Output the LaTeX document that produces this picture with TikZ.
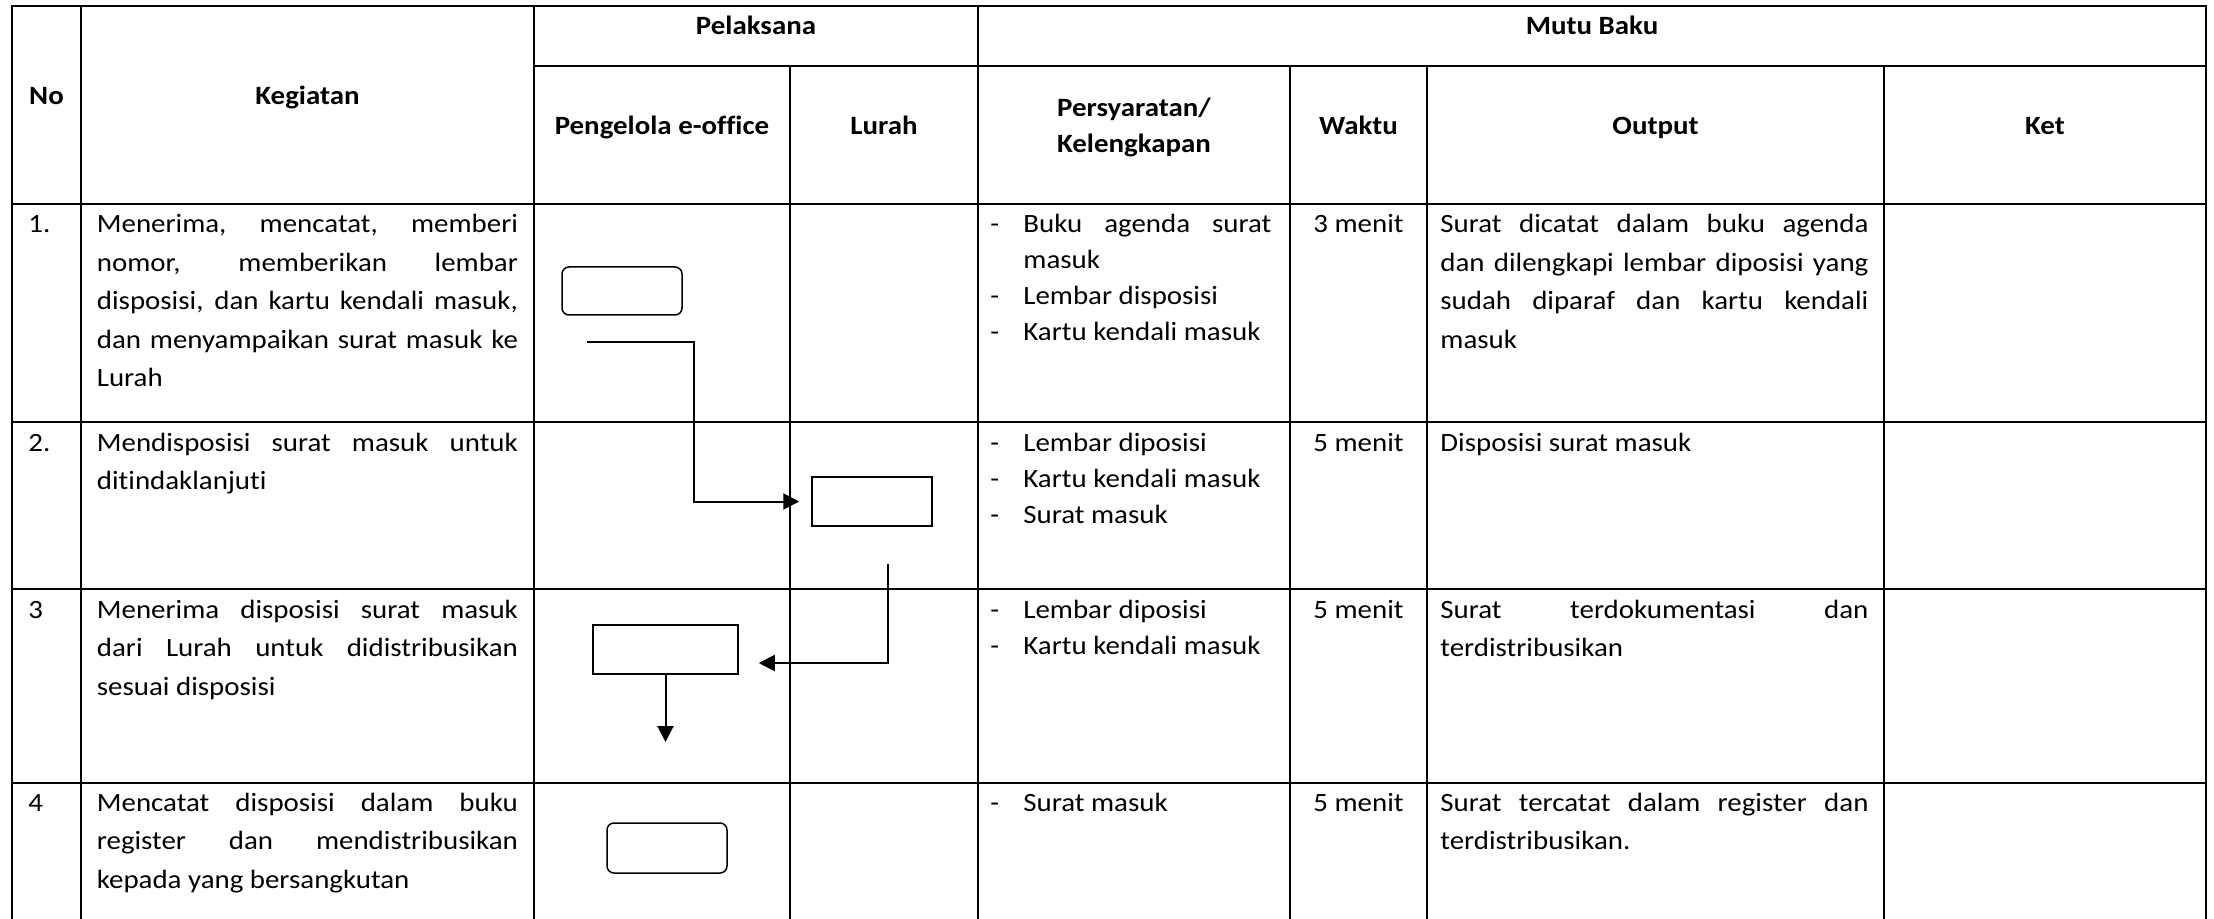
\documentclass[tikz,border=0pt]{standalone}
\usepackage{fontspec}
\setmainfont{Carlito}[FakeStretch=1.095, Ligatures=NoCommon]
\usetikzlibrary{arrows.meta}
\tolerance=10000 \hbadness=10000 \hyphenpenalty=10000
\newcommand\tabfont{\fontsize{13.2pt}{19.25pt}\selectfont}
\newcommand\listfont{\fontsize{13.2pt}{18pt}\selectfont}
\newcommand\butir{\hangindent=16.5pt\hangafter=1\noindent\makebox[16.5pt][l]{-}}
\tikzset{
    tabline/.style={line width=0.9pt},
    head/.style={font=\tabfont\bfseries, anchor=base, inner sep=0pt},
    txt/.style={font=\tabfont, anchor=base west, inner sep=0pt},
    para/.style={txt, align=justify, text width=#1},
    proc/.style={draw, line width=0.75pt, inner sep=0pt, minimum width=60pt, minimum height=24.5pt},
    flow/.style={line width=1pt, -{Triangle[length=8pt,width=8pt]}}
}
\begin{document}
\begin{tikzpicture}[x=0.5pt, y=-0.5pt]
    \useasboundingbox (0,0) rectangle (2214,919);
    % table lines
    \draw[tabline] (12,919) -- (12,6) -- (2206,6) -- (2206,919);
    \draw[tabline] (534,66) -- (2206,66);
    \foreach \y in {204,422,589,783}
        \draw[tabline] (12,\y) -- (2206,\y);
    \foreach \x in {81,534,978}
        \draw[tabline] (\x,6) -- (\x,919);
    \foreach \x in {790,1290,1427,1884}
        \draw[tabline] (\x,66) -- (\x,919);

    % header
    \node[head] (hno) at (46.5,105) {No};
    \node[head] (hkeg) at (307.5,105) {Kegiatan};
    \node[head] (hpel) at (756,35) {Pelaksana};
    \node[head] (hmutu) at (1592,35) {Mutu Baku};
    \node[head] (hpeng) at (662,135) {Pengelola e-office};
    \node[head] (hlurah) at (884,135) {Lurah};
    \node[head, font=\listfont\bfseries, text width=150pt, align=center] (hsyarat) at (1134,117) {Persyaratan/\\Kelengkapan};
    \node[head] (hwaktu) at (1358.5,135) {Waktu};
    \node[head] (hout) at (1655.5,135) {Output};
    \node[head] (hket) at (2045,135) {Ket};

    % row 1
    \node[txt] (no1) at (28,233) {1.};
    \node[para=210.5pt] (keg1) at (96.5,233) {Menerima, mencatat, memberi\linebreak nomor, memberikan lembar\linebreak disposisi, dan kartu kendali masuk,\linebreak dan menyampaikan surat masuk ke\linebreak Lurah};
    \node[para=140.5pt, font=\listfont] (syarat1) at (990,233) {\butir Buku agenda surat masuk\par\butir Lembar disposisi\par\butir Kartu kendali masuk};
    \node[txt, anchor=base] (waktu1) at (1358.5,233) {3 menit};
    \node[para=214pt] (out1) at (1440,233) {Surat dicatat dalam buku agenda\linebreak dan dilengkapi lembar diposisi yang\linebreak sudah diparaf dan kartu kendali\linebreak masuk};

    % row 2
    \node[txt] (no2) at (28,451) {2.};
    \node[para=210.5pt] (keg2) at (96.5,451) {Mendisposisi surat masuk untuk\linebreak ditindaklanjuti};
    \node[para=140.5pt, font=\listfont] (syarat2) at (990,451) {\butir Lembar diposisi\par\butir Kartu kendali masuk\par\butir Surat masuk};
    \node[txt, anchor=base] (waktu2) at (1358.5,451) {5 menit};
    \node[para=214pt] (out2) at (1440,451) {Disposisi surat masuk};

    % row 3
    \node[txt] (no3) at (28,618) {3};
    \node[para=210.5pt] (keg3) at (96.5,618) {Menerima disposisi surat masuk\linebreak dari Lurah untuk didistribusikan\linebreak sesuai disposisi};
    \node[para=140.5pt, font=\listfont] (syarat3) at (990,618) {\butir Lembar diposisi\par\butir Kartu kendali masuk};
    \node[txt, anchor=base] (waktu3) at (1358.5,618) {5 menit};
    \node[para=214pt] (out3) at (1440,618) {Surat terdokumentasi dan\linebreak terdistribusikan};

    % row 4
    \node[txt] (no4) at (28,811) {4};
    \node[para=210.5pt] (keg4) at (96.5,811) {Mencatat disposisi dalam buku\linebreak register dan mendistribusikan\linebreak kepada yang bersangkutan};
    \node[para=140.5pt, font=\listfont] (syarat4) at (990,811) {\butir Surat masuk};
    \node[txt, anchor=base] (waktu4) at (1358.5,811) {5 menit};
    \node[para=214pt] (out4) at (1440,811) {Surat tercatat dalam register dan\linebreak terdistribusikan.};

    % flow boxes
    \node[proc, rounded corners=3.5pt, minimum height=24pt] (box1) at (622,291) {};
    \node[proc] (box2) at (872,501.5) {};
    \node[proc, minimum width=72.5pt] (box3) at (665.5,649.5) {};
    \node[proc, rounded corners=3.5pt, minimum height=25pt] (box4) at (667,848) {};

    \coordinate (kirim) at (587,342);
    \coordinate (balik) at (888,564);
    \coordinate (turun) at (665.5,742);
    \draw[flow, shorten >=6pt] (kirim) -- ++(107,0) |- (box2.west);
    \draw[flow, shorten >=10pt] (balik) |- ([yshift=-6.75pt]box3.east);
    \draw[flow] (box3.south) -- (turun);
\end{tikzpicture}
\end{document}
